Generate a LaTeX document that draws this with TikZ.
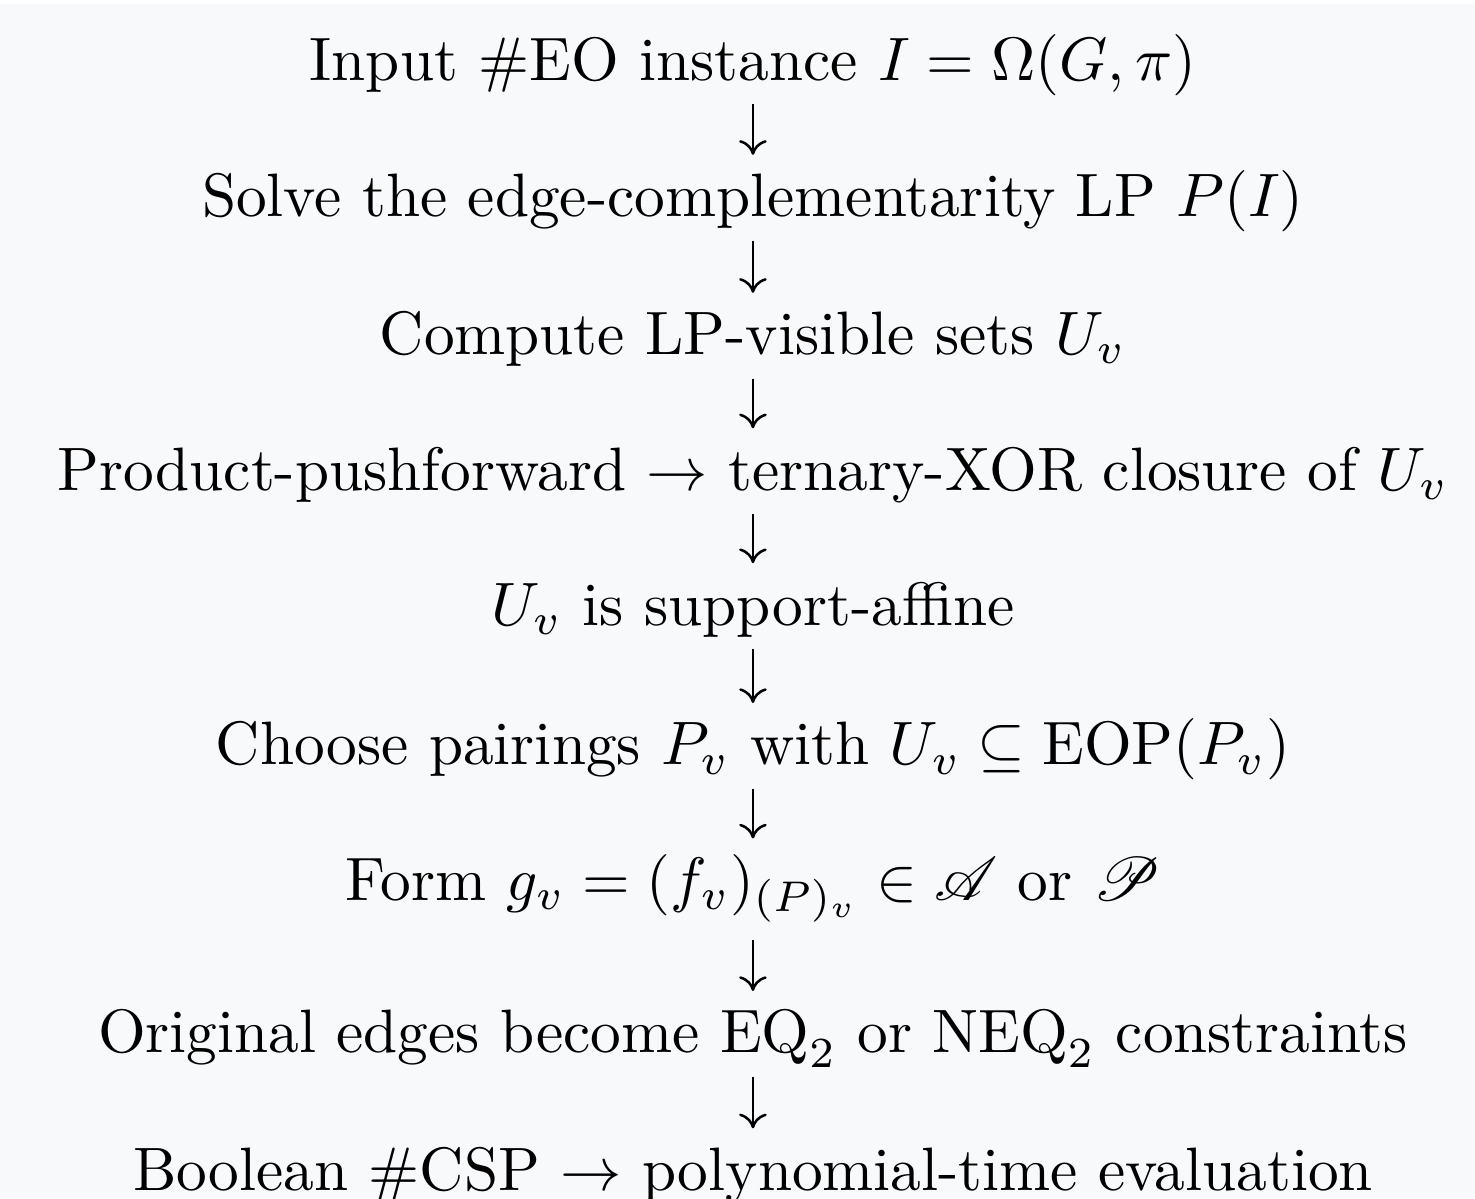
\documentclass[tikz,border=0pt]{standalone}
\usepackage{amsmath}
\usepackage{amssymb}
\usepackage{mathrsfs}
\usepackage{xcolor}
\usetikzlibrary{arrows.meta}
\definecolor{pagebg}{HTML}{F8F9FA}

\begin{document}
\begin{tikzpicture}[x=1.0277pt,y=1.0277pt,
    line/.style={anchor=base,inner sep=0pt,text height=7pt,text depth=2pt},
    flow/.style={-{Computer Modern Rightarrow[length=2.4pt,width=4.5pt]},line width=0.41pt,
        shorten <=1.7pt,shorten >=2.9pt}]
            \def\cx{119.5}

            \useasboundingbox (0,0) rectangle (234.1,-190.2);
            \fill[pagebg] (0,-0.6) rectangle (234.1,-190.2);

            \node[line] (input) at (\cx,-12.7) {Input \#EO instance $I=\Omega(G,\pi)$};
            \node[line] (solve) at (\cx,-34.4) {Solve the edge-complementarity LP $P(I)$};
            \node[line] (visible) at (\cx,-56.3) {Compute LP-visible sets $U_v$};
            \node[line] (push) at (\cx,-77.8) {Product-pushforward $\to$ ternary-XOR closure of $U_v$};
            \node[line] (affine) at (\cx,-99.2) {$U_v$ is support-affine};
            \node[line] (pair) at (\cx,-121.4) {Choose pairings $P_v$ with $U_v\subseteq\mathrm{EOP}(P_v)$};
            \node[line,text depth=4.5pt] (form) at (\cx,-142.9) {Form $g_v=(f_v)_{(P)_v}\in\mathscr{A}$ or $\mathscr{P}$};
            \node[line] (edges) at (\cx,-167.1) {Original edges become $\mathrm{EQ}_2$ or $\mathrm{NEQ}_2$ constraints};
            \node[line] (csp) at (\cx,-188.9) {Boolean \#CSP $\to$ polynomial-time evaluation};

            \foreach \a/\b in {input/solve,solve/visible,visible/push,push/affine,affine/pair,pair/form,form/edges,edges/csp}
                \draw[flow] (\a) -- (\b);

        \end{tikzpicture}
\end{document}
